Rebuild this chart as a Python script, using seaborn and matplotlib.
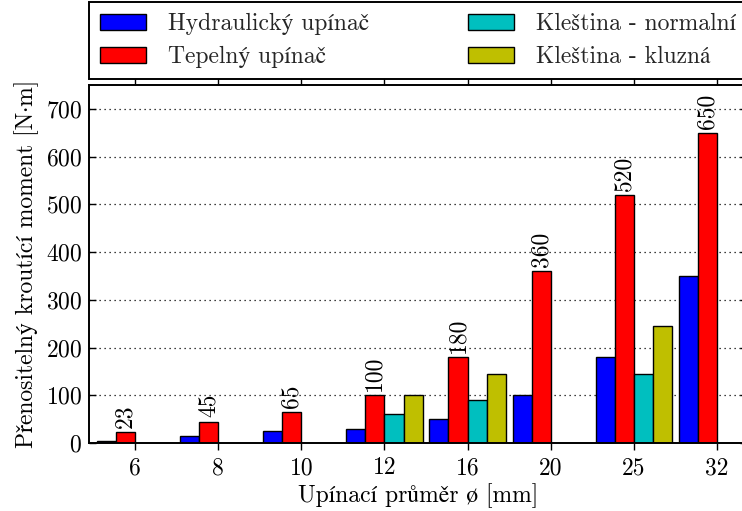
import numpy as np
import pandas as pd
import matplotlib
matplotlib.use("Agg")
import matplotlib.pyplot as plt
import seaborn as sns

# Clamping diameters [mm]
prumery = ["6", "8", "10", "12", "16", "20", "25", "32"]

# Transmissible torque [N·m] per holder type
hydraulicky = [5, 15, 25, 30, 50, 100, 180, 350]
tepelny = [23, 45, 65, 100, 180, 360, 520, 650]
klestina_normalni = [0, 0, 0, 60, 90, 0, 145, 0]
klestina_kluzna = [0, 0, 0, 100, 145, 0, 245, 0]

serie = ["Hydraulický upínač", "Tepelný upínač",
         "Kleština - normalní", "Kleština - kluzná"]
barvy = ["#0000ff", "#ff0000", "#00bfbf", "#bfbf00"]

df = pd.DataFrame({
    "prumer": prumery * 4,
    "moment": hydraulicky + tepelny + klestina_normalni + klestina_kluzna,
    "upinac": np.repeat(serie, len(prumery)),
})

sns.set_theme(style="white")
plt.rcParams["font.family"] = ["cmr10", "STIXGeneral"]
plt.rcParams["mathtext.fontset"] = "cm"
plt.rcParams["axes.formatter.use_mathtext"] = True
plt.rcParams["axes.unicode_minus"] = False

FS = 17
W, H = 742, 511
fig = plt.figure(figsize=(W / 100, H / 100), dpi=100)
ax = fig.add_axes([89 / W, (H - 443) / H, (747 - 89) / W, (443 - 85) / H])

sns.barplot(data=df, x="prumer", y="moment", hue="upinac",
            order=prumery, hue_order=serie, palette=barvy,
            width=0.92, saturation=1, edgecolor="black", linewidth=1.0,
            legend=False, ax=ax)

ax.set_xlim(-0.553, 7.36)
ax.set_ylim(0, 750)
ax.set_yticks(range(0, 800, 100))

ax.yaxis.grid(True, linestyle=(0, (1, 3)), color="black", linewidth=0.9)
ax.xaxis.grid(False)
ax.set_axisbelow(True)

for s in ax.spines.values():
    s.set_color("black")
    s.set_linewidth(1.4)

ax.tick_params(axis="y", direction="in", length=5, width=1, left=True, right=True,
               labelsize=FS, pad=5, colors="black")
ax.tick_params(axis="x", direction="out", length=5, width=1, bottom=True, top=True,
               labelsize=FS, pad=5, colors="black")

ax.set_xlabel("Upínací průměr ø [mm]", fontsize=FS, color="black", labelpad=3)
ax.set_ylabel("Přenositelný kroutící moment [N·m]", fontsize=FS, color="black", labelpad=5)

# Value labels above the thermal holder bars
ax.bar_label(ax.containers[1], labels=[str(v) for v in tepelny],
             rotation=90, padding=3, fontsize=FS, color="black")

leg = fig.legend(ax.containers, serie, loc="upper left",
                 bbox_to_anchor=(89 / W, (H - 7) / H, (747 - 89) / W, 0.01),
                 mode="expand", ncol=2, borderaxespad=0, fontsize=FS,
                 frameon=True, fancybox=False, edgecolor="black",
                 handlelength=1.95, handleheight=0.66, handletextpad=0.9,
                 labelspacing=0.44, borderpad=0.48)
leg.get_frame().set_linewidth(1.4)
leg.get_frame().set_alpha(1)

fig.savefig("out.png", dpi=100)
